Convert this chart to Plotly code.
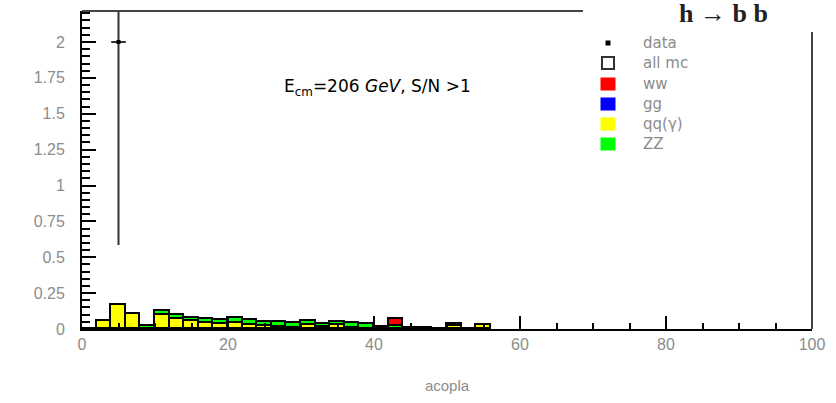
import plotly.graph_objects as go

# ---------------- data ----------------
bin_centers = [1, 3, 5, 7, 9, 11, 13, 15, 17, 19, 21, 23, 25, 27, 29,
               31, 33, 35, 37, 39, 41, 43, 45, 47, 49, 51, 53, 55]
bin_width = 2

qq_gamma = [0, 0.055, 0.17, 0.105, 0, 0.095, 0.07, 0.056, 0.045, 0.035,
            0.04, 0.028, 0.023, 0.016, 0.01, 0.028, 0.016, 0.028, 0.008, 0,
            0, 0, 0, 0, 0, 0.022, 0, 0.028]
zz = [0, 0, 0, 0, 0.022, 0.03, 0.03, 0.023, 0.025, 0.028,
      0.039, 0.037, 0.028, 0.035, 0.03, 0.028, 0.017, 0.023, 0.035, 0.035,
      0.016, 0.018, 0.01, 0.01, 0, 0.012, 0, 0]
gg = [0] * 28
ww = [0, 0, 0, 0, 0, 0, 0, 0, 0, 0,
      0, 0, 0, 0, 0, 0, 0, 0, 0, 0,
      0, 0.055, 0, 0, 0, 0, 0, 0]

data_x = [5]
data_y = [2]
data_err = [1.414]
data_xerr = [1]

legend_labels = ["data", "all mc", "ww", "gg", "qq(γ)", "ZZ"]
legend_colors = [None, None, "#ff0000", "#0000ff", "#ffff00", "#00ff00"]

# ---------------- figure ----------------
fig = go.Figure()
for vals, col in [(qq_gamma, "#ffff00"), (zz, "#00ff00"), (gg, "#0000ff"), (ww, "#ff0000")]:
    fig.add_trace(go.Bar(x=bin_centers, y=vals, width=bin_width,
                         marker=dict(color=col, line=dict(color="black", width=1.8)),
                         showlegend=False, hoverinfo="skip"))

fig.add_trace(go.Scatter(
    x=data_x, y=data_y, mode="markers",
    marker=dict(symbol="square", size=4, color="black"),
    error_y=dict(type="data", array=data_err, color="#333333", thickness=2, width=0),
    error_x=dict(type="data", array=data_xerr, color="#333333", thickness=2, width=0),
    showlegend=False, hoverinfo="skip"))

gray = "#8c8c8c"
fig.update_layout(
    width=836, height=403,
    margin=dict(l=82, r=24, t=11, b=74),
    paper_bgcolor="white", plot_bgcolor="white",
    barmode="stack", bargap=0,
    font=dict(family="Liberation Sans", size=16, color=gray),
    xaxis=dict(range=[0, 100], dtick=20, tick0=0, ticks="inside", ticklen=13,
               tickwidth=2, tickcolor="black", showgrid=False, zeroline=False,
               showline=True, linecolor="black", linewidth=2,
               minor=dict(dtick=5, ticks="inside", ticklen=6, tickwidth=2, tickcolor="black"),
               tickfont=dict(size=16, color=gray),
               title=dict(text="acopla", font=dict(size=15, color=gray), standoff=28)),
    yaxis=dict(range=[0, 2.216], dtick=0.25, tick0=0, ticks="inside", ticklen=14,
               tickwidth=2, tickcolor="black", showgrid=False, zeroline=False,
               showline=True, linecolor="black", linewidth=2,
               minor=dict(dtick=0.05, ticks="inside", ticklen=8, tickwidth=2, tickcolor="black"),
               tickfont=dict(size=16, color=gray), ticklabelstandoff=12),
)

# partial frame (top and right borders)
fig.add_shape(type="line", xref="paper", yref="paper", x0=0, x1=(583 - 82) / 730, y0=1, y1=1,
              line=dict(color="#444444", width=2))
fig.add_shape(type="line", xref="paper", yref="paper", x0=1, x1=1, y0=0, y1=(329 - 32) / 318,
              line=dict(color="#444444", width=2))

# title
fig.add_annotation(xref="paper", yref="paper", x=(723 - 82) / 730, y=1 - (13 - 11) / 318,
                   text="<b>h → b b</b>", showarrow=False, xanchor="center", yanchor="middle",
                   font=dict(family="Liberation Serif", size=26, color="#222222"))

# energy label
fig.add_annotation(xref="paper", yref="paper", x=(282 - 82) / 730, y=(329 - 88) / 318,
                   text="E<sub>cm</sub>=206 <i>GeV</i>, S/N >1", showarrow=False,
                   xanchor="left", yanchor="middle",
                   font=dict(family="DejaVu Sans", size=17, color="black"))

# manual legend
row_y = [43, 63, 84, 104, 124, 144]
mx = 608
tx = 641
for lab, col, py in zip(legend_labels, legend_colors, row_y):
    yp = (329 - py) / 318
    if lab == "data":
        fig.add_shape(type="rect", xref="paper", yref="paper",
                      x0=(mx - 2.5 - 82) / 730, x1=(mx + 2.5 - 82) / 730,
                      y0=(329 - py - 2.5) / 318, y1=(329 - py + 2.5) / 318,
                      fillcolor="black", line=dict(width=0))
    elif lab == "all mc":
        fig.add_shape(type="rect", xref="paper", yref="paper",
                      x0=(mx - 6 - 82) / 730, x1=(mx + 6 - 82) / 730,
                      y0=(329 - py - 6) / 318, y1=(329 - py + 6) / 318,
                      fillcolor="white", line=dict(color="#333333", width=2))
    else:
        fig.add_shape(type="rect", xref="paper", yref="paper",
                      x0=(mx - 7.5 - 82) / 730, x1=(mx + 7.5 - 82) / 730,
                      y0=(329 - py - 6.5) / 318, y1=(329 - py + 6.5) / 318,
                      fillcolor=col, line=dict(width=0))
    fig.add_annotation(xref="paper", yref="paper", x=(tx - 82) / 730, y=yp,
                       text=lab, showarrow=False, xanchor="left", yanchor="middle",
                       font=dict(family="DejaVu Sans", size=15, color=gray))

fig.write_html("out.html")
